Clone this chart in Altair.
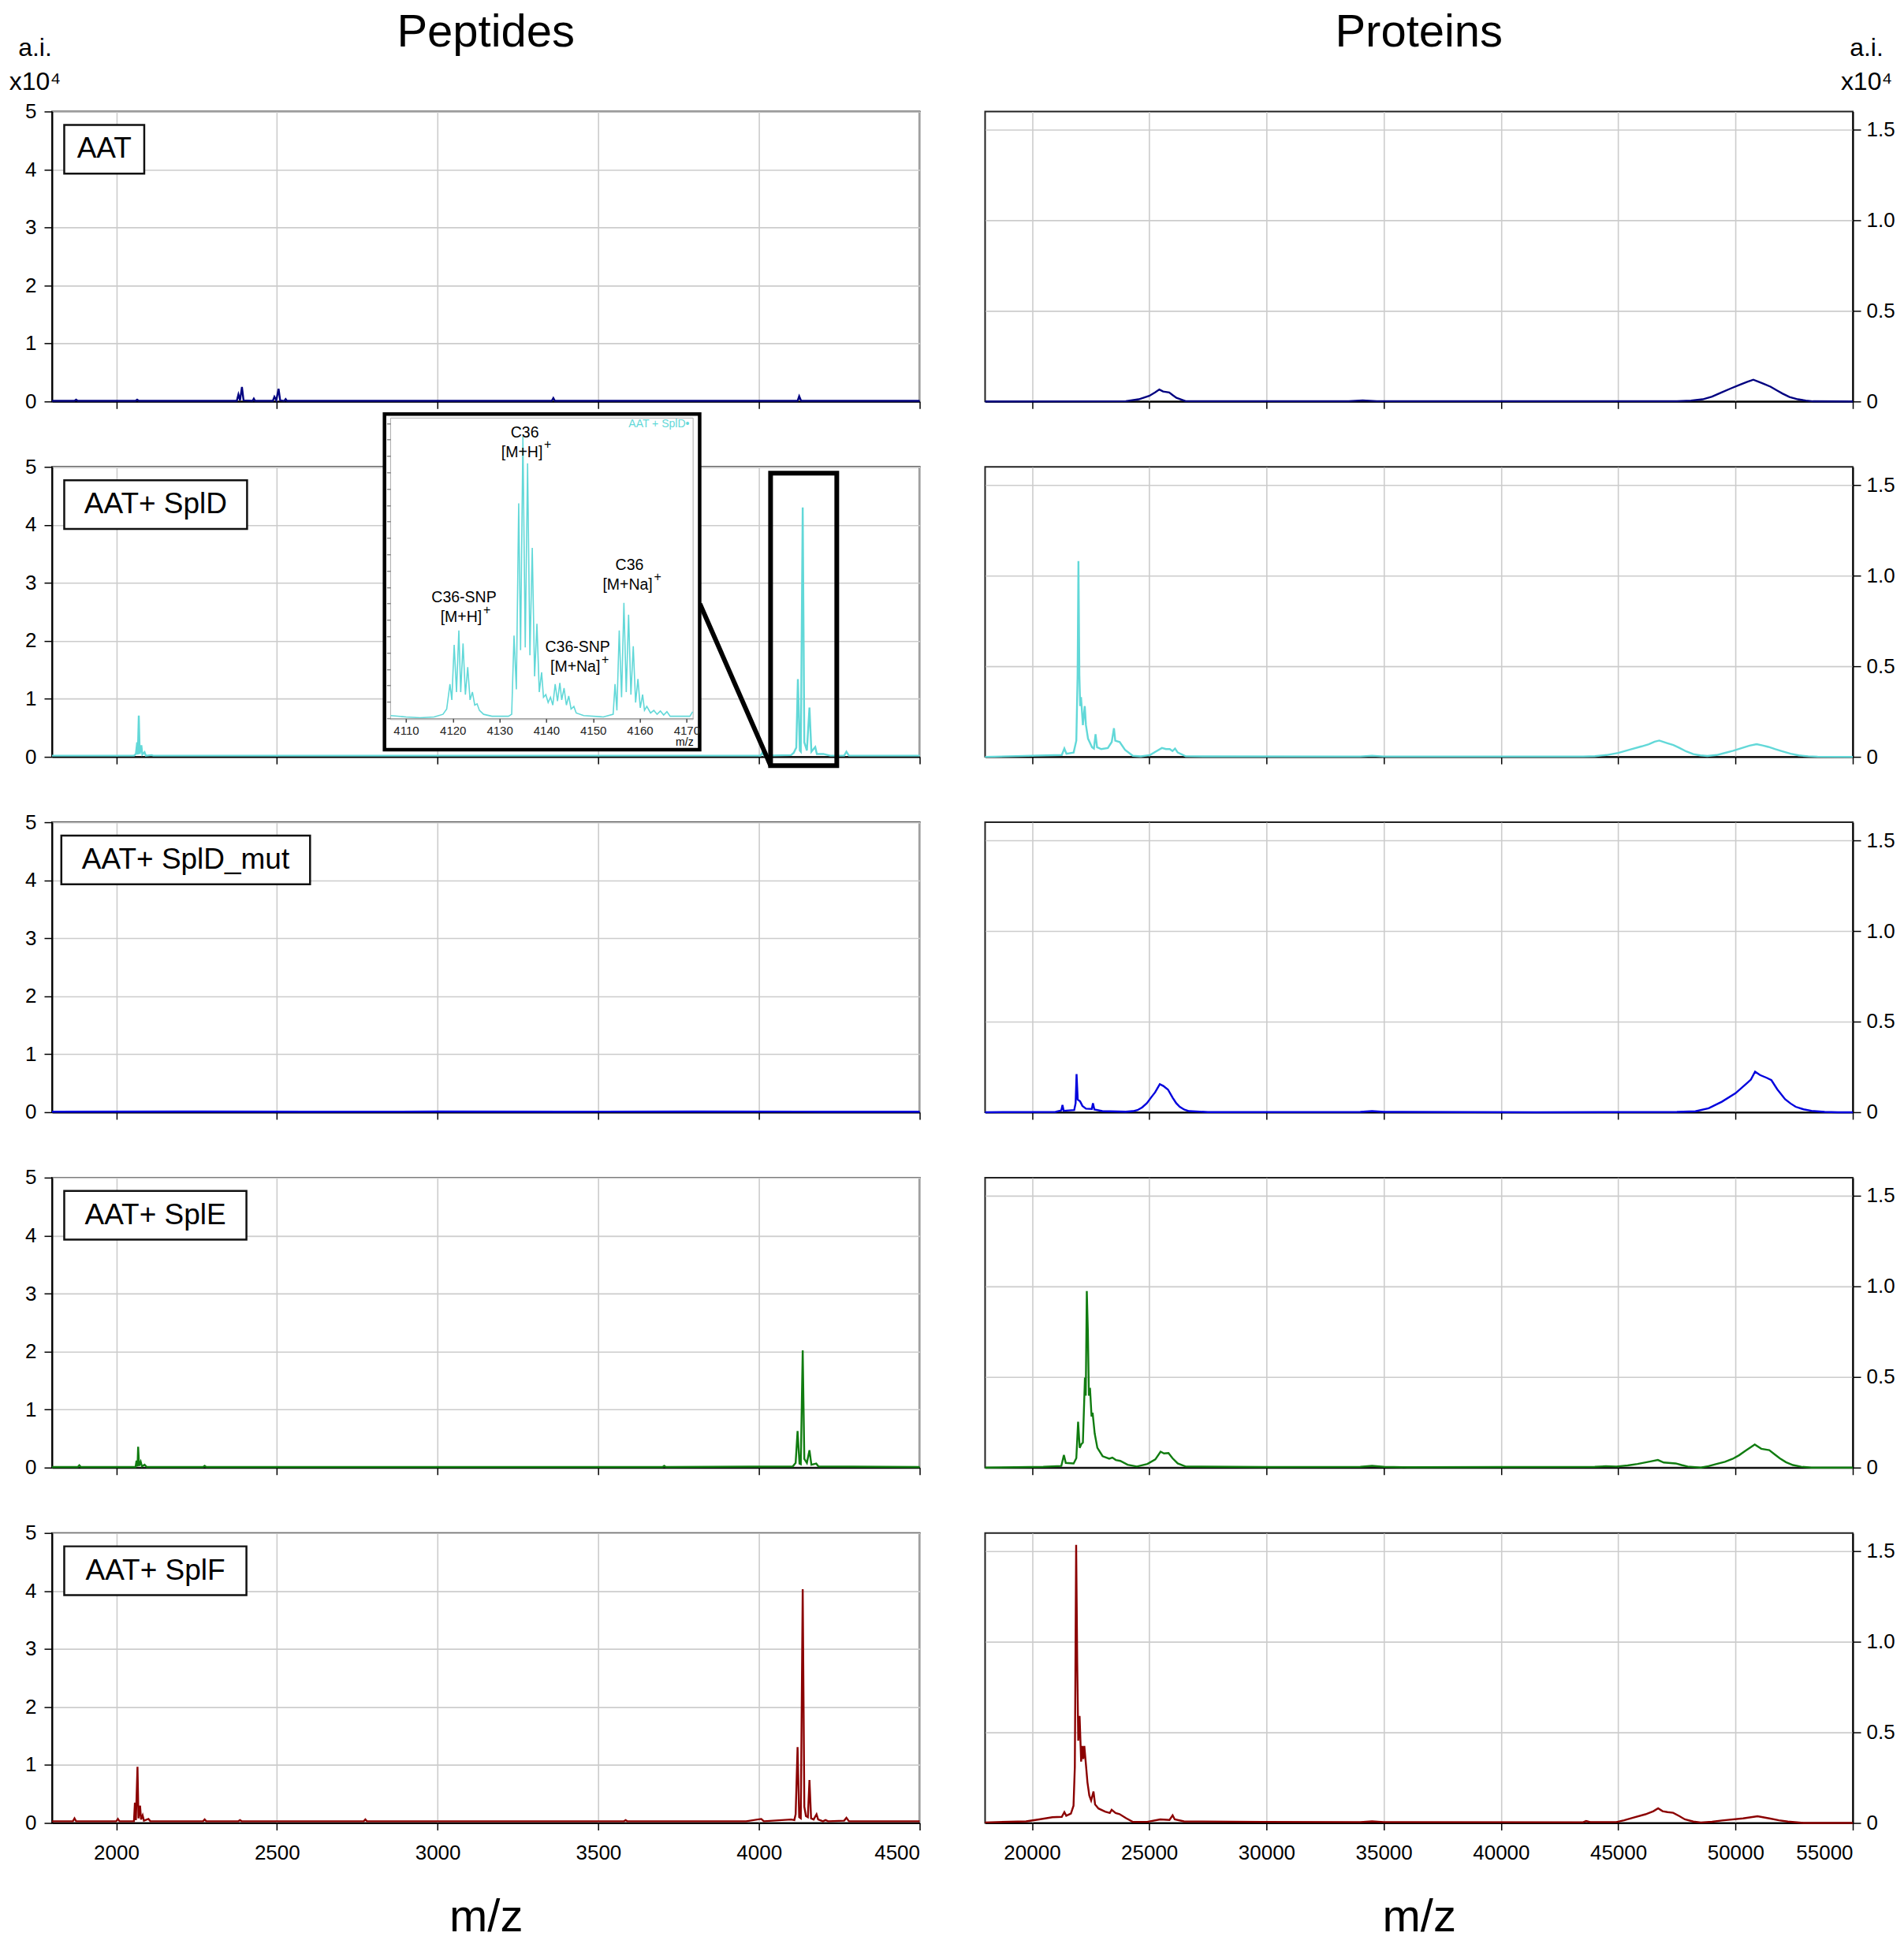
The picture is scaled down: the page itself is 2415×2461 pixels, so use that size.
import altair as alt
import pandas as pd

FONT = "Liberation Sans, Arial, Helvetica, sans-serif"

# ---------------- data ----------------
ROW_NAMES = ["AAT", "AAT+ SplD", "AAT+ SplD_mut", "AAT+ SplE", "AAT+ SplF"]
ROW_COLORS = ["#000080", "#62d8d8", "#0000dd", "#107c10", "#8b0000"]

PEP_MZ_DOMAIN = [1800, 4500]
PEP_AI_DOMAIN = [0, 5]
PEP_MZ_TICKS = [2000, 2500, 3000, 3500, 4000, 4500]
PEP_AI_TICKS = [0, 1, 2, 3, 4, 5]

PROT_MZ_DOMAIN = [18000, 55000]
PROT_AI_DOMAIN = [0, 1.6]
PROT_MZ_TICKS = [20000, 25000, 30000, 35000, 40000, 45000, 50000, 55000]
PROT_AI_TICKS = [0, 0.5, 1.0, 1.5]

INSET_MZ_DOMAIN = [4106.7, 4171.4]
INSET_AI_DOMAIN = [0, 4.58]
INSET_MZ_TICKS = [4110, 4120, 4130, 4140, 4150, 4160, 4170]
INSET_AI_TICKS = [0.25 * k for k in range(19)]

# peptide spectra (m/z, a.i. x10^4)
PEP_AAT = [(1800, 0.01), (1870, 0.01), (1875, 0.03), (1880, 0.01), (2060, 0.01), (2065, 0.03),
           (2070, 0.01), (2375, 0.01), (2380, 0.12), (2385, 0.02), (2391, 0.25), (2396, 0.02),
           (2424, 0.01), (2428, 0.05), (2432, 0.01), (2487, 0.01), (2492, 0.08), (2498, 0.02),
           (2505, 0.22), (2510, 0.02), (2523, 0.01), (2527, 0.04), (2531, 0.01), (3355, 0.01),
           (3360, 0.06), (3365, 0.01), (4120, 0.01), (4125, 0.09), (4131, 0.01), (4500, 0.01)]
PEP_SPLD = [(1800, 0.02), (2055, 0.02), (2061, 0.05), (2065, 0.25), (2067, 0.04), (2070, 0.71),
            (2073, 0.05), (2078, 0.20), (2081, 0.04), (2088, 0.08), (2092, 0.02), (2110, 0.03),
            (2115, 0.02), (2500, 0.02), (3000, 0.02), (3500, 0.02), (4005, 0.02), (4010, 0.07),
            (4016, 0.02), (4100, 0.03), (4108, 0.07), (4116, 0.16), (4121, 1.34), (4127, 0.11),
            (4130, 0.09), (4136, 4.30), (4141, 0.25), (4149, 0.11), (4157, 0.85), (4163, 0.09),
            (4175, 0.17), (4180, 0.05), (4200, 0.05), (4222, 0.02), (4265, 0.02), (4272, 0.09),
            (4280, 0.02), (4500, 0.02)]
PEP_MUT = [(1800, 0.01), (2200, 0.012), (2600, 0.01), (3000, 0.012), (3400, 0.01), (3800, 0.012),
           (4200, 0.01), (4500, 0.01)]
PEP_SPLE = [(1800, 0.01), (1880, 0.01), (1885, 0.04), (1890, 0.01), (2060, 0.01), (2063, 0.12),
            (2066, 0.02), (2068, 0.36), (2071, 0.03), (2076, 0.10), (2080, 0.02), (2088, 0.05),
            (2095, 0.01), (2270, 0.01), (2275, 0.03), (2280, 0.01), (3700, 0.01), (3705, 0.03),
            (3710, 0.01), (4105, 0.02), (4114, 0.08), (4120, 0.63), (4126, 0.07), (4130, 0.06),
            (4136, 2.02), (4141, 0.15), (4149, 0.08), (4157, 0.30), (4163, 0.05), (4178, 0.07),
            (4185, 0.02), (4500, 0.01)]
PEP_SPLF = [(1800, 0.03), (1865, 0.03), (1870, 0.08), (1875, 0.03), (2000, 0.03), (2005, 0.07),
            (2010, 0.03), (2055, 0.03), (2058, 0.35), (2061, 0.05), (2066, 0.97), (2069, 0.08),
            (2074, 0.30), (2077, 0.06), (2082, 0.13), (2086, 0.04), (2100, 0.07), (2106, 0.03),
            (2270, 0.03), (2275, 0.06), (2280, 0.03), (2380, 0.03), (2385, 0.05), (2390, 0.03),
            (2770, 0.03), (2775, 0.06), (2780, 0.03), (3580, 0.03), (3585, 0.05), (3590, 0.03),
            (3960, 0.03), (4007, 0.07), (4015, 0.03), (4100, 0.06), (4110, 0.05), (4114, 0.15),
            (4120, 1.31), (4125, 0.10), (4130, 0.08), (4136, 4.03), (4141, 0.28), (4146, 0.12),
            (4152, 0.10), (4157, 0.74), (4162, 0.08), (4170, 0.06), (4179, 0.15), (4184, 0.06),
            (4199, 0.03), (4207, 0.05), (4215, 0.03), (4265, 0.04), (4272, 0.09), (4280, 0.03),
            (4500, 0.03)]

# protein spectra (m/z, a.i. x10^4)
PROT_AAT = [(18000, 0.0), (24000, 0.002), (24550, 0.012), (25000, 0.031), (25250, 0.05),
            (25430, 0.066), (25590, 0.055), (25850, 0.05), (26000, 0.035), (26160, 0.02),
            (26550, 0.002), (33500, 0.002), (34100, 0.006), (34700, 0.002), (47500, 0.002),
            (48100, 0.005), (48600, 0.012), (49000, 0.027), (49400, 0.05), (49800, 0.072),
            (50180, 0.092), (50500, 0.108), (50760, 0.12), (50970, 0.11), (51200, 0.098),
            (51490, 0.082), (51750, 0.062), (52010, 0.043), (52300, 0.025), (52660, 0.012),
            (53000, 0.005), (53300, 0.001), (55000, 0.0)]
PROT_SPLD = [(18000, 0.0), (21270, 0.01), (21380, 0.046), (21470, 0.017), (21775, 0.024),
             (21890, 0.09), (21945, 0.45), (21980, 1.08), (22020, 0.45), (22055, 0.28),
             (22090, 0.33), (22170, 0.175), (22250, 0.28), (22300, 0.175), (22390, 0.10),
             (22560, 0.053), (22640, 0.046), (22710, 0.125), (22775, 0.053), (22955, 0.043),
             (23235, 0.049), (23400, 0.082), (23495, 0.158), (23550, 0.089), (23740, 0.082),
             (23965, 0.039), (24300, 0.006), (24640, 0.003), (25030, 0.01), (25315, 0.032),
             (25540, 0.049), (25710, 0.043), (25875, 0.043), (25990, 0.032), (26100, 0.046),
             (26215, 0.024), (26550, 0.003), (34000, 0.002), (34500, 0.006), (35000, 0.002),
             (43500, 0.002), (44000, 0.004), (44500, 0.01), (45000, 0.022), (45500, 0.04),
             (46000, 0.058), (46300, 0.07), (46550, 0.084), (46750, 0.09), (47100, 0.075),
             (47350, 0.065), (47600, 0.05), (47900, 0.03), (48200, 0.015), (48500, 0.008),
             (48800, 0.005), (49200, 0.01), (49500, 0.02), (49900, 0.034), (50300, 0.05),
             (50600, 0.062), (50900, 0.07), (51150, 0.063), (51400, 0.055), (51700, 0.042),
             (52000, 0.03), (52350, 0.017), (52700, 0.008), (53100, 0.003), (53500, 0.001),
             (55000, 0.0)]
PROT_MUT = [(18000, 0.0), (21000, 0.002), (21250, 0.01), (21300, 0.04), (21350, 0.008),
            (21800, 0.012), (21860, 0.05), (21900, 0.21), (21950, 0.07), (22050, 0.06),
            (22150, 0.035), (22300, 0.02), (22550, 0.018), (22600, 0.05), (22660, 0.015),
            (23000, 0.006), (24000, 0.003), (24300, 0.006), (24500, 0.012), (24700, 0.027),
            (24900, 0.05), (25100, 0.085), (25250, 0.11), (25450, 0.155), (25600, 0.145),
            (25800, 0.125), (26000, 0.08), (26150, 0.05), (26300, 0.03), (26500, 0.014),
            (26700, 0.006), (27500, 0.001), (34000, 0.002), (34500, 0.006), (35000, 0.002),
            (41500, 0.0), (47500, 0.002), (48290, 0.005), (48855, 0.022), (49417, 0.058),
            (50000, 0.105), (50485, 0.16), (50654, 0.18), (50834, 0.224), (51047, 0.205),
            (51328, 0.19), (51530, 0.177), (51778, 0.127), (52115, 0.072), (52350, 0.048),
            (52565, 0.03), (52900, 0.016), (53240, 0.008), (53800, 0.002), (54363, 0.0),
            (55000, 0.0)]
PROT_SPLE = [(18000, 0.0), (20480, 0.004), (21250, 0.009), (21360, 0.069), (21440, 0.026),
             (21775, 0.023), (21890, 0.052), (21966, 0.253), (22034, 0.109), (22112, 0.131),
             (22170, 0.138), (22258, 0.497), (22292, 0.397), (22337, 0.974), (22382, 0.756),
             (22427, 0.397), (22472, 0.44), (22540, 0.282), (22584, 0.303), (22674, 0.188),
             (22787, 0.109), (23011, 0.063), (23292, 0.049), (23427, 0.055), (23573, 0.042),
             (23764, 0.037), (24079, 0.016), (24472, 0.006), (24921, 0.02), (25258, 0.045),
             (25483, 0.088), (25629, 0.078), (25820, 0.08), (25989, 0.052), (26213, 0.023),
             (26551, 0.006), (30000, 0.003), (34000, 0.004), (34500, 0.01), (35000, 0.004),
             (36000, 0.002), (44000, 0.004), (44470, 0.008), (44920, 0.006), (45400, 0.012),
             (45820, 0.02), (46380, 0.034), (46690, 0.042), (46940, 0.028), (47450, 0.023),
             (47700, 0.014), (47960, 0.006), (48520, 0.0), (48850, 0.008), (49190, 0.02),
             (49550, 0.032), (49870, 0.048), (50150, 0.068), (50430, 0.093), (50820, 0.127),
             (51100, 0.104), (51440, 0.096), (51650, 0.075), (51890, 0.051), (52150, 0.03),
             (52450, 0.014), (52800, 0.005), (53240, 0.0), (55000, 0.0)]
PROT_SPLF = [(18000, 0.003), (19750, 0.009), (20310, 0.02), (20870, 0.032), (21270, 0.034),
             (21380, 0.06), (21460, 0.04), (21660, 0.052), (21770, 0.095), (21827, 0.31),
             (21883, 1.534), (21928, 0.885), (21973, 0.454), (22029, 0.59), (22096, 0.339),
             (22141, 0.425), (22186, 0.353), (22231, 0.425), (22298, 0.325), (22365, 0.224),
             (22444, 0.152), (22522, 0.124), (22623, 0.174), (22690, 0.102), (22836, 0.08),
             (23116, 0.063), (23318, 0.055), (23397, 0.073), (23565, 0.055), (23733, 0.049),
             (24013, 0.026), (24293, 0.006), (24910, 0.006), (25470, 0.02), (25863, 0.017),
             (25997, 0.042), (26087, 0.02), (26479, 0.009), (29840, 0.006), (34000, 0.005),
             (34500, 0.009), (35000, 0.005), (43500, 0.004), (43630, 0.011), (43800, 0.005),
             (44920, 0.005), (45250, 0.015), (45600, 0.028), (46160, 0.048), (46500, 0.065),
             (46700, 0.081), (46890, 0.065), (47100, 0.06), (47340, 0.056), (47600, 0.038),
             (47840, 0.02), (48200, 0.008), (48520, 0.003), (49000, 0.007), (49420, 0.014),
             (50320, 0.025), (50940, 0.037), (51440, 0.025), (51850, 0.015), (52230, 0.008),
             (52900, 0.0), (55000, 0.0)]

# zoomed inset of AAT + SplD around m/z 4135 (a.i. x10^4)
INSET_SPEC = [(4106.7, 0.04), (4110, 0.02), (4113, 0.008), (4116, 0.02),
              (4117.9, 0.06), (4118.7, 0.14), (4119.4, 0.52), (4119.8, 0.28), (4120.3, 1.12),
              (4120.8, 0.40), (4121.3, 1.34), (4121.7, 0.40), (4122.2, 1.14), (4122.7, 0.36),
              (4123.2, 0.78), (4123.7, 0.28), (4124.2, 0.40), (4124.7, 0.20), (4125.2, 0.22),
              (4125.7, 0.12), (4126.6, 0.06), (4128.4, 0.03), (4131.9, 0.03), (4132.6, 0.06),
              (4133.1, 1.26), (4133.6, 0.44), (4134.1, 3.28), (4134.5, 1.04), (4135.0, 4.30),
              (4135.5, 1.08), (4136.0, 3.89), (4136.5, 0.96), (4137.0, 2.60), (4137.5, 0.64),
              (4138.0, 1.44), (4138.5, 0.40), (4139.0, 0.70), (4139.4, 0.32), (4139.9, 0.36),
              (4140.4, 0.24), (4140.9, 0.32), (4141.4, 0.20), (4141.9, 0.52), (4142.4, 0.26),
              (4142.9, 0.54), (4143.3, 0.28), (4143.8, 0.46), (4144.3, 0.20), (4144.8, 0.34),
              (4145.3, 0.14), (4145.9, 0.18), (4146.4, 0.08), (4148.0, 0.04), (4152.2, 0.02),
              (4154.3, 0.06), (4154.7, 0.52), (4155.1, 0.12), (4155.6, 1.34), (4156.1, 0.32),
              (4156.6, 1.76), (4157.1, 0.40), (4157.6, 1.58), (4158.1, 0.36), (4158.6, 1.10),
              (4159.1, 0.24), (4159.6, 0.60), (4160.1, 0.16), (4160.6, 0.36), (4161.0, 0.12),
              (4161.5, 0.18), (4162.3, 0.08), (4163.0, 0.12), (4163.7, 0.06), (4164.4, 0.11),
              (4165.1, 0.05), (4165.8, 0.10), (4166.5, 0.03), (4168.3, 0.03), (4170.7, 0.03),
              (4171.3, 0.10)]
INSET_LABELS = ["C36", "[M+H]", "C36-SNP", "[M+H]", "C36-SNP", "[M+Na]", "C36", "[M+Na]"]
INSET_SUPER = "+"
INSET_LEGEND = "AAT + SplD•"

PEP_SERIES = [PEP_AAT, PEP_SPLD, PEP_MUT, PEP_SPLE, PEP_SPLF]
PROT_SERIES = [PROT_AAT, PROT_SPLD, PROT_MUT, PROT_SPLE, PROT_SPLF]

# ---------------- layout / decoration positions ----------------
W, H = 1101, 368
# label boxes in data units (m/z, a.i.)
BOX_X1 = [1838, 1838, 1829, 1838, 1838]
BOX_X2 = [2087, 2407, 2603, 2405, 2405]
BOX_Y = (3.93, 4.77)
# zoom marker in row 2 (data units of the peptide panel)
HL_BOX = (4036, 4242, -0.15, 4.89)
ZOOM_LINE = (3816, 2.64, 4036, -0.15)
# inset placement (pixels inside the row-2 peptide panel)
INSET_XRANGE = [429.6, 813.5]
INSET_YRANGE = [319, -62]
INSET_OUTER = (4105.4, 4172.8, -0.48, 4.64)
INSET_LABEL_POS = [(4135.4, 4.36), (4134.8, 4.06), (4122.4, 1.84), (4121.8, 1.54),
                   (4146.7, 1.08), (4146.2, 0.78), (4157.8, 2.34), (4157.4, 2.04)]
# superscript "+" positions (right of the bracketed ion labels)
INSET_SUPER_POS = [(4140.3, 4.17), (4127.3, 1.65), (4152.6, 0.89), (4163.8, 2.15)]
INSET_LEGEND_POS = (4170.6, 4.49)

AI_TITLE = ["a.i.", "x10⁴"]


def x_axis(values, bottom):
    return alt.Axis(values=values, format="d", grid=True, labels=bottom,
                    title="m/z" if bottom else None, titleFontSize=58,
                    titleFontWeight="normal", titlePadding=40, labelPadding=16,
                    labelFontSize=26, tickSize=9)


def pep_y_axis(first):
    return alt.Axis(values=PEP_AI_TICKS, format="d", orient="left", grid=True,
                    title=AI_TITLE if first else None, titleAngle=0, titleX=-22, titleY=-71,
                    titleAlign="center", titleBaseline="alphabetic", titleFontSize=32,
                    titleFontWeight="normal", titleLineHeight=43, labelPadding=10,
                    labelFontSize=26, tickSize=10)


def prot_y_axis(first):
    return alt.Axis(values=PROT_AI_TICKS, orient="right", grid=True,
                    labelExpr="datum.value == 0 ? '0' : format(datum.value, '.1f')",
                    title=AI_TITLE if first else None, titleAngle=0, titleX=17, titleY=-71,
                    titleAlign="center", titleBaseline="alphabetic", titleFontSize=32,
                    titleFontWeight="normal", titleLineHeight=43, labelPadding=7,
                    labelFontSize=26, tickSize=10)


def inset_layer():
    xs = alt.Scale(domain=INSET_MZ_DOMAIN, range=INSET_XRANGE, nice=False, zero=False)
    ys = alt.Scale(domain=INSET_AI_DOMAIN, range=INSET_YRANGE, nice=False, zero=False)
    xax = alt.Axis(orient="bottom", offset=INSET_YRANGE[0] - H, values=INSET_MZ_TICKS,
                   format="d", grid=False, labelFontSize=15, labelPadding=3, tickSize=5,
                   tickColor="#444", domainColor="#999", domainWidth=1, title="m/z",
                   titleFontSize=14, titleFontWeight="normal", titleAnchor="end",
                   titlePadding=0, zindex=3, labelColor="#222")
    yax = alt.Axis(orient="left", offset=-INSET_XRANGE[0], values=INSET_AI_TICKS,
                   labels=False, grid=False, domain=False, tickSize=5, tickColor="#888",
                   title=None, zindex=3)

    def X(f):
        return alt.X(f, type="quantitative", scale=xs, axis=xax)

    def Y(f):
        return alt.Y(f, type="quantitative", scale=ys, axis=yax)

    o = INSET_OUTER
    outer_df = pd.DataFrame([{"x1": o[0], "x2": o[1], "y1": o[2], "y2": o[3]}])
    frame_df = pd.DataFrame([{"x1": INSET_MZ_DOMAIN[0], "x2": INSET_MZ_DOMAIN[1],
                              "y1": -0.02, "y2": INSET_AI_DOMAIN[1]}])
    spec_df = pd.DataFrame(INSET_SPEC, columns=["mz", "ai"])
    lab_df = pd.DataFrame({"x": [p[0] for p in INSET_LABEL_POS],
                           "y": [p[1] for p in INSET_LABEL_POS],
                           "t": INSET_LABELS})
    sup_df = pd.DataFrame({"x": [p[0] for p in INSET_SUPER_POS],
                           "y": [p[1] for p in INSET_SUPER_POS],
                           "t": [INSET_SUPER] * len(INSET_SUPER_POS)})
    leg_df = pd.DataFrame([{"x": INSET_LEGEND_POS[0], "y": INSET_LEGEND_POS[1],
                            "t": INSET_LEGEND}])

    outer = alt.Chart(outer_df).mark_rect(fill="white", stroke="black", strokeWidth=4.5).encode(
        x=X("x1"), x2="x2", y=Y("y1"), y2="y2")
    frame = alt.Chart(frame_df).mark_rect(fillOpacity=0, stroke="#aaaaaa", strokeWidth=1).encode(
        x=X("x1"), x2="x2", y=Y("y1"), y2="y2")
    spec = alt.Chart(spec_df).mark_line(color=ROW_COLORS[1], strokeWidth=1.6).encode(
        x=X("mz"), y=Y("ai"))
    labs = alt.Chart(lab_df).mark_text(font=FONT, fontSize=19.5, color="black",
                                       baseline="middle").encode(
        x=X("x"), y=Y("y"), text="t:N")
    sups = alt.Chart(sup_df).mark_text(font=FONT, fontSize=16, color="black",
                                       baseline="middle", align="center").encode(
        x=X("x"), y=Y("y"), text="t:N")
    leg = alt.Chart(leg_df).mark_text(font=FONT, fontSize=14, color=ROW_COLORS[1],
                                      align="right", baseline="middle").encode(
        x=X("x"), y=Y("y"), text="t:N")
    return alt.layer(outer, frame, spec, labs, sups, leg)


def col_title(text):
    return alt.TitleParams(text, fontSize=58, font=FONT, fontWeight="normal",
                           anchor="middle", offset=-27)


def pep_panel(i):
    bottom = i == 4
    xs = alt.Scale(domain=PEP_MZ_DOMAIN, nice=False, zero=False)
    ys = alt.Scale(domain=PEP_AI_DOMAIN, nice=False, zero=False)
    xax = x_axis(PEP_MZ_TICKS, bottom)
    yax = pep_y_axis(i == 0)

    def X(f):
        return alt.X(f, type="quantitative", scale=xs, axis=xax)

    def Y(f):
        return alt.Y(f, type="quantitative", scale=ys, axis=yax)

    df = pd.DataFrame(PEP_SERIES[i], columns=["mz", "ai"])
    line = alt.Chart(df).mark_line(color=ROW_COLORS[i], strokeWidth=2.4).encode(
        x=X("mz"), y=Y("ai"))
    bdf = pd.DataFrame([{"x1": BOX_X1[i], "x2": BOX_X2[i], "y1": BOX_Y[0], "y2": BOX_Y[1],
                         "xc": (BOX_X1[i] + BOX_X2[i]) / 2, "yc": (BOX_Y[0] + BOX_Y[1]) / 2,
                         "label": ROW_NAMES[i]}])
    box = alt.Chart(bdf).mark_rect(fill="white", stroke="#111111", strokeWidth=2.5).encode(
        x=X("x1"), x2="x2", y=Y("y1"), y2="y2")
    txt = alt.Chart(bdf).mark_text(font=FONT, fontSize=37, color="black",
                                   baseline="middle").encode(
        x=X("xc"), y=Y("yc"), text="label:N")
    layers = [line, box, txt]
    if i == 1:
        hdf = pd.DataFrame([{"x1": HL_BOX[0], "x2": HL_BOX[1], "y1": HL_BOX[2], "y2": HL_BOX[3]}])
        hl = alt.Chart(hdf).mark_rect(fillOpacity=0, stroke="black", strokeWidth=6).encode(
            x=X("x1"), x2="x2", y=Y("y1"), y2="y2")
        zdf = pd.DataFrame([{"x1": ZOOM_LINE[0], "y1": ZOOM_LINE[1],
                             "x2": ZOOM_LINE[2], "y2": ZOOM_LINE[3]}])
        zl = alt.Chart(zdf).mark_rule(color="black", strokeWidth=6).encode(
            x=X("x1"), x2="x2", y=Y("y1"), y2="y2")
        layers += [hl, zl]
    main = alt.layer(*layers)
    if i == 1:
        ch = alt.layer(main, inset_layer()).resolve_scale(x="independent", y="independent")
    else:
        ch = main
    ch = ch.properties(width=W, height=H)
    if i == 0:
        ch = ch.properties(title=col_title("Peptides"))
    return ch


def prot_panel(i):
    bottom = i == 4
    xs = alt.Scale(domain=PROT_MZ_DOMAIN, nice=False, zero=False)
    ys = alt.Scale(domain=PROT_AI_DOMAIN, nice=False, zero=False)
    df = pd.DataFrame(PROT_SERIES[i], columns=["mz", "ai"])
    ch = alt.Chart(df).mark_line(color=ROW_COLORS[i], strokeWidth=2.4).encode(
        x=alt.X("mz", type="quantitative", scale=xs, axis=x_axis(PROT_MZ_TICKS, bottom)),
        y=alt.Y("ai", type="quantitative", scale=ys, axis=prot_y_axis(i == 0)),
    ).properties(width=W, height=H)
    if i == 0:
        ch = ch.properties(title=col_title("Proteins"))
    return ch


panels = []
for r in range(5):
    panels.append(pep_panel(r))
    panels.append(prot_panel(r))

chart = alt.concat(*panels, columns=2).properties(
    spacing=alt.RowColnumber(row=83, column=83),
    bounds="flush",
    padding={"left": 2, "top": 4, "right": 2, "bottom": 0},
).configure_view(
    stroke="#222222", strokeWidth=2
).configure_axis(
    labelFont=FONT, titleFont=FONT, labelColor="black", titleColor="black",
    tickColor="black", domainColor="black", domainWidth=2, tickWidth=1.5,
    gridColor="#cccccc", gridWidth=1.6
).configure_title(font=FONT, color="black")

chart.save("out.html", embed_options={"renderer": "svg", "actions": False})
